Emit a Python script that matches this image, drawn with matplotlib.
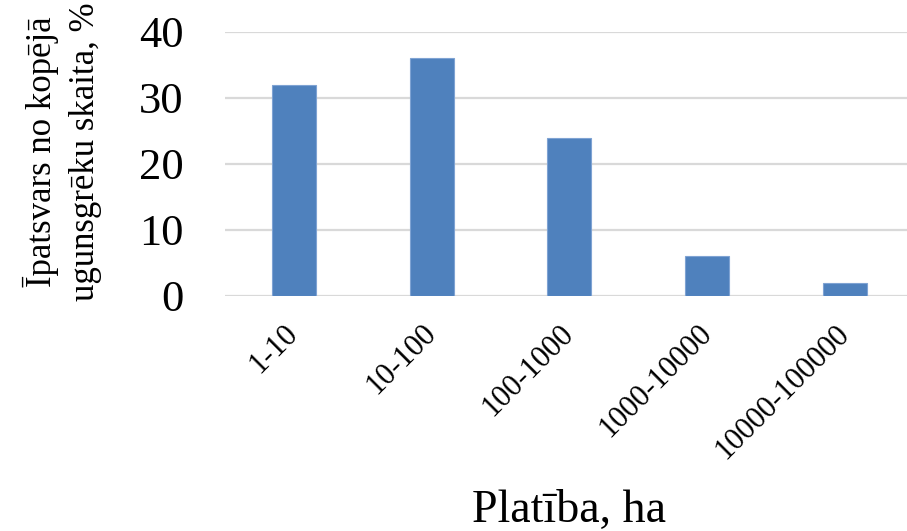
import matplotlib.pyplot as plt

# ugunsgrēku sadalījums pēc platības
klases = ['1-10', '10-100', '100-1000', '1000-10000', '10000-100000']
ipatsvars = [32, 36, 24, 6, 2]
y_ticks = [0, 10, 20, 30, 40]

plt.rcParams['font.family'] = ['Liberation Serif', 'DejaVu Serif']

fig = plt.figure(figsize=(9.07, 5.31), dpi=100)
ax = fig.add_axes([0.248, 0.4426, 0.752, 0.4972])

x = range(len(klases))
ax.bar(x, ipatsvars, width=0.32, color='#4f81bd', edgecolor='#7fa3d3',
       linewidth=0.8, zorder=3)

ax.set_xlim(-0.5, 4.45)
ax.set_ylim(0, 40)
ax.set_yticks(y_ticks)
ax.set_yticklabels([str(v) for v in y_ticks], fontsize=32)
ax.tick_params(axis='y', length=0, pad=30)
ax.set_xticks(list(x))
ax.set_xticklabels(klases, fontsize=22, rotation=45, ha='right',
                   va='center', rotation_mode='anchor')
ax.tick_params(axis='x', length=0, pad=24)

# režģa līnijas
ax.yaxis.grid(True, color='#d9d9d9', linewidth=1.6, zorder=0)
for s in ax.spines.values():
    s.set_visible(False)

fig.text(62 / 907, 1 - 152 / 531, 'Īpatsvars no kopējā\nugunsgrēku skaita, %',
         rotation=90, ha='center', va='center', fontsize=25,
         multialignment='center', linespacing=1.4)
fig.text(569 / 907, 1 - 522 / 531, 'Platība, ha', ha='center', va='baseline',
         fontsize=33)

fig.savefig('out.png', dpi=100, facecolor='white')
